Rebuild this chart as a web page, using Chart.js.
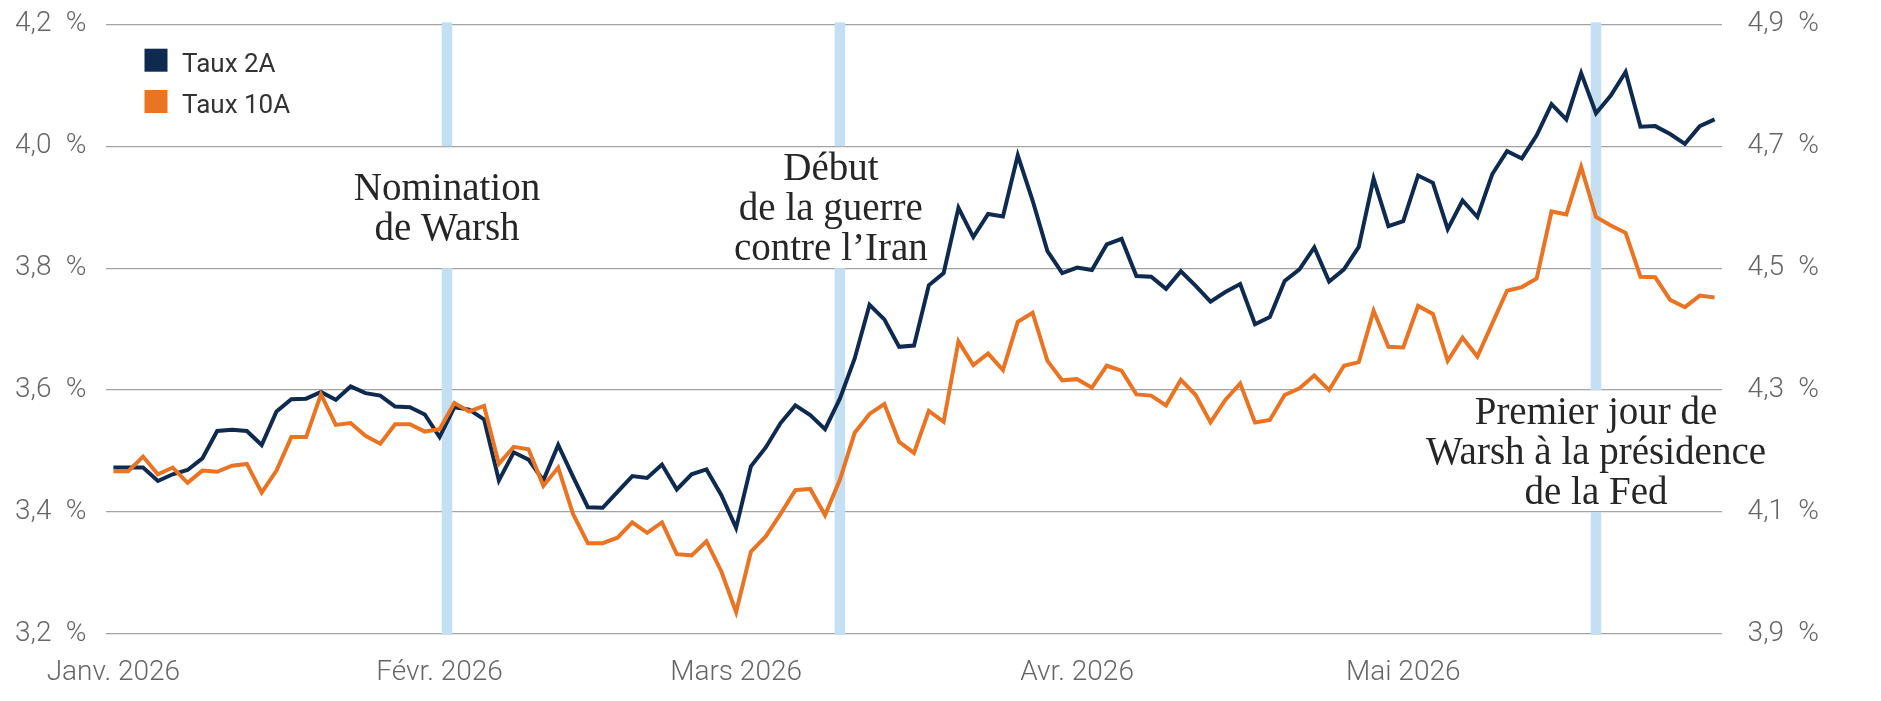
<!DOCTYPE html>
<html lang="fr">
<head>
<meta charset="utf-8">
<title>Taux 2A et 10A</title>
<script src="https://cdn.jsdelivr.net/npm/chart.js@4.4.1/dist/chart.umd.min.js"></script>
<style>
  html, body { margin: 0; padding: 0; background: #fff; }
  #chart { display: block; }
</style>
</head>
<body>
<canvas id="chart" width="1881" height="701"></canvas>
<script>
// -------------------------
// Data (one value per trading day)
// -------------------------
const monthLabels = ["Janv. 2026", "Févr. 2026", "Mars 2026", "Avr. 2026", "Mai 2026"];
const monthStarts = [0, 22, 42, 65, 87];

// Taux 2A, left axis (%)
const taux2A = [
  3.473, 3.473, 3.473, 3.451, 3.462, 3.469, 3.488, 3.533, 3.535, 3.533,
  3.510, 3.565, 3.585, 3.586, 3.597, 3.584, 3.606, 3.595, 3.591, 3.573,
  3.572, 3.560, 3.523, 3.572, 3.568, 3.552, 3.452, 3.498, 3.486, 3.452,
  3.510, 3.458, 3.408, 3.407, 3.433, 3.459, 3.456, 3.478, 3.437, 3.462,
  3.470, 3.428, 3.374, 3.475, 3.506, 3.546, 3.575, 3.559, 3.536, 3.586,
  3.652, 3.740, 3.716, 3.671, 3.673, 3.772, 3.792, 3.899, 3.851, 3.889,
  3.885, 3.985, 3.911, 3.828, 3.792, 3.801, 3.797, 3.839, 3.848, 3.787,
  3.786, 3.766, 3.795, 3.771, 3.745, 3.761, 3.774, 3.708, 3.720, 3.779,
  3.798, 3.834, 3.778, 3.798, 3.835, 3.947, 3.869, 3.877, 3.952, 3.940,
  3.864, 3.911, 3.884, 3.954, 3.992, 3.980, 4.018, 4.069, 4.044, 4.120,
  4.054, 4.083, 4.122, 4.032, 4.033, 4.020, 4.004, 4.033, 4.044
];

// Taux 10A, right axis (%)
const taux10A = [
  4.167, 4.167, 4.191, 4.162, 4.173, 4.148, 4.168, 4.166, 4.176, 4.179,
  4.132, 4.168, 4.223, 4.223, 4.293, 4.243, 4.246, 4.225, 4.212, 4.244,
  4.244, 4.232, 4.236, 4.279, 4.265, 4.274, 4.179, 4.207, 4.203, 4.143,
  4.173, 4.097, 4.049, 4.049, 4.058, 4.083, 4.066, 4.083, 4.031, 4.029,
  4.052, 4.003, 3.936, 4.035, 4.060, 4.097, 4.136, 4.138, 4.095, 4.153,
  4.230, 4.261, 4.277, 4.215, 4.197, 4.266, 4.248, 4.380, 4.341, 4.360,
  4.333, 4.412, 4.427, 4.348, 4.316, 4.318, 4.304, 4.340, 4.332, 4.293,
  4.291, 4.275, 4.317, 4.292, 4.247, 4.284, 4.311, 4.247, 4.251, 4.292,
  4.303, 4.324, 4.300, 4.340, 4.346, 4.430, 4.371, 4.370, 4.438, 4.425,
  4.348, 4.386, 4.355, 4.409, 4.463, 4.469, 4.483, 4.593, 4.588, 4.666,
  4.584, 4.570, 4.558, 4.486, 4.485, 4.448, 4.436, 4.455, 4.452
];

// events marked by a vertical band (index on the day axis)
const eventAt = [22.5, 49, 100];
const eventNames = [
  ["Nomination", "de Warsh"],
  ["Début", "de la guerre", "contre l’Iran"],
  ["Premier jour de", "Warsh à la présidence", "de la Fed"]
];

const labels = taux2A.map((_, i) => {
  const k = monthStarts.indexOf(i);
  return k >= 0 ? monthLabels[k] : "";
});

const pct = (v) => v.toFixed(1).replace(".", ",") + "\u2002%";

// -------------------------
// Plugins
// -------------------------
const eventMarks = {
  id: "eventMarks",
  beforeDatasetsDraw(chart, args, opts) {
    const { ctx, chartArea, scales } = chart;
    ctx.save();
    ctx.fillStyle = opts.bandColor;
    eventAt.forEach((at, i) => {
      const x = scales.x.getPixelForValue(at);
      const gTop = scales.y.getPixelForValue(opts.gaps[i][0]);
      const gBot = scales.y.getPixelForValue(opts.gaps[i][1]);
      const w = opts.bandWidth;
      ctx.fillRect(x - w / 2, chartArea.top - 2, w, gTop - chartArea.top + 2);
      ctx.fillRect(x - w / 2, gBot, w, chartArea.bottom + 1 - gBot);
    });
    ctx.restore();
  },
  afterDatasetsDraw(chart, args, opts) {
    const { ctx, scales } = chart;
    ctx.save();
    ctx.font = opts.font;
    ctx.fillStyle = opts.color;
    ctx.textAlign = "center";
    ctx.textBaseline = "alphabetic";
    eventAt.forEach((at, i) => {
      const lines = eventNames[i];
      const x = scales.x.getPixelForValue(at) + opts.dx[i];
      const gTop = scales.y.getPixelForValue(opts.gaps[i][0]);
      const gBot = scales.y.getPixelForValue(opts.gaps[i][1]);
      const mid = (gTop + gBot) / 2;
      const first = mid - ((lines.length - 1) * opts.lineHeight + opts.capHeight) / 2 + opts.capHeight;
      lines.forEach((t, j) => ctx.fillText(t, x, first + j * opts.lineHeight));
    });
    ctx.restore();
  }
};

const boxLegend = {
  id: "boxLegend",
  afterDatasetsDraw(chart, args, opts) {
    const { ctx, chartArea } = chart;
    ctx.save();
    ctx.font = opts.font;
    ctx.textBaseline = "alphabetic";
    chart.data.datasets.forEach((ds, i) => {
      const x = chartArea.left + opts.x;
      const y = chartArea.top + opts.y + i * opts.rowGap;
      ctx.fillStyle = ds.borderColor;
      ctx.fillRect(x, y, opts.box, opts.box);
      ctx.fillStyle = opts.color;
      ctx.fillText(ds.label, x + opts.box + opts.gap, y + opts.box);
    });
    ctx.restore();
  }
};

// vertical axes: fixed width, and no extra room asked above/below the plot
const fixAxis = (width) => (s) => {
  s.width = width;
  s.paddingTop = 0;
  s.paddingBottom = 0;
};

// -------------------------
// Chart
// -------------------------
const tickFont = { family: "Roboto", size: 28, weight: "300" };

new Chart(document.getElementById("chart"), {
  type: "line",
  data: {
    labels,
    datasets: [
      {
        label: "Taux 2A",
        data: taux2A,
        yAxisID: "y",
        borderColor: "#0f2a4f",
        borderWidth: 4,
        pointRadius: 0,
        tension: 0,
        order: 1,
      },
      {
        label: "Taux 10A",
        data: taux10A,
        yAxisID: "y2",
        borderColor: "#e87424",
        borderWidth: 4,
        pointRadius: 0,
        tension: 0,
        order: 0,
      },
    ],
  },
  options: {
    responsive: false,
    animation: false,
    events: [],
    layout: { padding: { top: 24.3, left: 0, right: 0, bottom: 0 } },
    plugins: {
      legend: { display: false },
      tooltip: { enabled: false },
      eventMarks: {
        bandColor: "#c4dff1",
        bandWidth: 10.5,
        gaps: [[4.0, 3.8], [4.0, 3.8], [3.6, 3.4]],
        dx: [0, -9, 0],
        font: '39px "Liberation Serif", "DejaVu Serif", serif',
        color: "#262626",
        lineHeight: 40,
        capHeight: 25,
      },
      boxLegend: {
        x: 38.5,
        y: 24.4,
        rowGap: 41.3,
        box: 23,
        gap: 14.6,
        font: "26px Roboto",
        color: "#333333",
      },
    },
    scales: {
      x: {
        type: "category",
        offset: true,
        grid: { display: false },
        border: { display: false },
        ticks: {
          autoSkip: false,
          maxRotation: 0,
          padding: 14,
          color: "#666666",
          font: tickFont,
        },
        afterFit: (s) => { s.height = 67; },
      },
      y: {
        position: "left",
        min: 3.2,
        max: 4.2,
        border: { display: false },
        grid: { color: "#a3a3a3", lineWidth: 1.3, drawTicks: false },
        ticks: {
          stepSize: 0.2,
          padding: 19.5,
          color: "#666666",
          font: tickFont,
          callback: (v) => pct(v),
        },
        afterFit: fixAxis(106),
      },
      y2: {
        position: "right",
        min: 3.9,
        max: 4.9,
        border: { display: false },
        grid: { display: false, drawTicks: false },
        ticks: {
          stepSize: 0.2,
          padding: 25.6,
          color: "#666666",
          font: tickFont,
          callback: (v) => pct(v),
        },
        afterFit: fixAxis(159),
      },
    },
  },
  plugins: [eventMarks, boxLegend],
});
</script>
</body>
</html>
